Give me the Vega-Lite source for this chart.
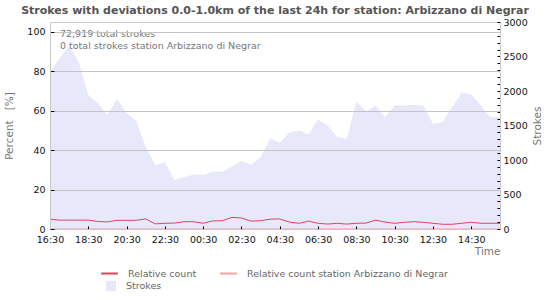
{
  "$schema": "https://vega.github.io/schema/vega-lite/v6.json",
  "width": 450,
  "height": 207,
  "autosize": {"type": "none"},
  "padding": {"left": 50, "top": 22, "right": 50, "bottom": 71},
  "background": "white",
  "config": {
    "font": "DejaVu Sans",
    "view": {"stroke": "#c8c8c8", "strokeWidth": 1}
  },
  "title": {
    "text": "Strokes with deviations 0.0-1.0km of the last 24h for station: Arbizzano di Negrar",
    "font": "DejaVu Sans",
    "fontSize": 11,
    "fontWeight": "bold",
    "color": "#555555",
    "anchor": "middle",
    "frame": "group",
    "offset": 1
  },
  "data": {
    "values": [
      {"t": "2024-01-01T16:30", "rel": 5.0, "stn": 0, "strokes": 2280},
      {"t": "2024-01-01T17:00", "rel": 4.5, "stn": 0, "strokes": 2470},
      {"t": "2024-01-01T17:30", "rel": 4.5, "stn": 0, "strokes": 2656},
      {"t": "2024-01-01T18:00", "rel": 4.5, "stn": 0, "strokes": 2420},
      {"t": "2024-01-01T18:30", "rel": 4.5, "stn": 0, "strokes": 1942},
      {"t": "2024-01-01T19:00", "rel": 3.8, "stn": 0, "strokes": 1825},
      {"t": "2024-01-01T19:30", "rel": 3.6, "stn": 0, "strokes": 1652},
      {"t": "2024-01-01T20:00", "rel": 4.4, "stn": 0, "strokes": 1884},
      {"t": "2024-01-01T20:30", "rel": 4.4, "stn": 0, "strokes": 1680},
      {"t": "2024-01-01T21:00", "rel": 4.4, "stn": 0, "strokes": 1565},
      {"t": "2024-01-01T21:30", "rel": 5.1, "stn": 0, "strokes": 1190},
      {"t": "2024-01-01T22:00", "rel": 2.6, "stn": 0, "strokes": 920},
      {"t": "2024-01-01T22:30", "rel": 2.9, "stn": 0, "strokes": 975},
      {"t": "2024-01-01T23:00", "rel": 3.0, "stn": 0, "strokes": 705},
      {"t": "2024-01-01T23:30", "rel": 3.7, "stn": 0, "strokes": 755},
      {"t": "2024-01-02T00:00", "rel": 3.7, "stn": 0, "strokes": 790},
      {"t": "2024-01-02T00:30", "rel": 2.9, "stn": 0, "strokes": 782},
      {"t": "2024-01-02T01:00", "rel": 4.1, "stn": 0, "strokes": 828},
      {"t": "2024-01-02T01:30", "rel": 4.2, "stn": 0, "strokes": 830},
      {"t": "2024-01-02T02:00", "rel": 5.9, "stn": 0, "strokes": 905},
      {"t": "2024-01-02T02:30", "rel": 5.6, "stn": 0, "strokes": 985},
      {"t": "2024-01-02T03:00", "rel": 4.0, "stn": 0, "strokes": 930},
      {"t": "2024-01-02T03:30", "rel": 4.2, "stn": 0, "strokes": 1035},
      {"t": "2024-01-02T04:00", "rel": 5.0, "stn": 0, "strokes": 1314},
      {"t": "2024-01-02T04:30", "rel": 5.1, "stn": 0, "strokes": 1250},
      {"t": "2024-01-02T05:00", "rel": 3.5, "stn": 0, "strokes": 1400},
      {"t": "2024-01-02T05:30", "rel": 2.9, "stn": 0, "strokes": 1428},
      {"t": "2024-01-02T06:00", "rel": 4.0, "stn": 0, "strokes": 1370},
      {"t": "2024-01-02T06:30", "rel": 2.9, "stn": 0, "strokes": 1588},
      {"t": "2024-01-02T07:00", "rel": 2.5, "stn": 0, "strokes": 1500},
      {"t": "2024-01-02T07:30", "rel": 2.9, "stn": 0, "strokes": 1335},
      {"t": "2024-01-02T08:00", "rel": 2.5, "stn": 0, "strokes": 1307},
      {"t": "2024-01-02T08:30", "rel": 2.9, "stn": 0, "strokes": 1849},
      {"t": "2024-01-02T09:00", "rel": 3.0, "stn": 0, "strokes": 1704},
      {"t": "2024-01-02T09:30", "rel": 4.5, "stn": 0, "strokes": 1791},
      {"t": "2024-01-02T10:00", "rel": 3.5, "stn": 0, "strokes": 1621},
      {"t": "2024-01-02T10:30", "rel": 2.9, "stn": 0, "strokes": 1791},
      {"t": "2024-01-02T11:00", "rel": 3.4, "stn": 0, "strokes": 1791},
      {"t": "2024-01-02T11:30", "rel": 3.7, "stn": 0, "strokes": 1800},
      {"t": "2024-01-02T12:00", "rel": 3.4, "stn": 0, "strokes": 1791},
      {"t": "2024-01-02T12:30", "rel": 2.9, "stn": 0, "strokes": 1525},
      {"t": "2024-01-02T13:00", "rel": 2.4, "stn": 0, "strokes": 1549},
      {"t": "2024-01-02T13:30", "rel": 2.4, "stn": 0, "strokes": 1767},
      {"t": "2024-01-02T14:00", "rel": 2.9, "stn": 0, "strokes": 1975},
      {"t": "2024-01-02T14:30", "rel": 3.4, "stn": 0, "strokes": 1951},
      {"t": "2024-01-02T15:00", "rel": 2.9, "stn": 0, "strokes": 1791},
      {"t": "2024-01-02T15:30", "rel": 2.9, "stn": 0, "strokes": 1621},
      {"t": "2024-01-02T16:00", "rel": 2.9, "stn": 0, "strokes": 1621}
    ]
  },
  "layer": [
    {
      "mark": {"type": "area", "interpolate": "linear"},
      "encoding": {
        "x": {
          "field": "t",
          "type": "temporal",
          "scale": {
            "domain": [
              {"year": 2024, "month": 1, "date": 1, "hours": 16, "minutes": 30},
              {"year": 2024, "month": 1, "date": 2, "hours": 16, "minutes": 0}
            ],
            "nice": false
          }
        },
        "y": {
          "field": "strokes",
          "type": "quantitative",
          "scale": {"domain": [0, 3000], "nice": false},
          "axis": {
            "orient": "right",
            "title": "Strokes",
            "titleAngle": 270,
            "titleFont": "DejaVu Sans",
            "titleFontSize": 10.5,
            "titleFontWeight": "normal",
            "titleColor": "#777777",
            "titlePadding": 15,
            "values": [0, 100, 200, 300, 400, 500, 600, 700, 800, 900, 1000, 1100, 1200, 1300, 1400, 1500, 1600, 1700, 1800, 1900, 2000, 2100, 2200, 2300, 2400, 2500, 2600, 2700, 2800, 2900, 3000],
            "labelExpr": "datum.value % 500 === 0 ? datum.value : ''",
            "labelOverlap": false,
            "labelFlush": false,
            "labelBound": false,
            "labelFont": "DejaVu Sans",
            "labelFontSize": 9.5,
            "labelColor": "#111111",
            "labelPadding": 6,
            "tickSize": -3,
            "tickColor": "#000000",
            "domainColor": "#c8c8c8",
            "grid": false,
            "zindex": 1,
            "encode": {
              "ticks": {
                "update": {
                  "x2": {"signal": "datum.value % 500 === 0 ? -5 : -3"}
                }
              }
            }
          }
        },
        "fill": {
          "datum": "Strokes",
          "scale": {"range": ["#e8e8fb"]},
          "legend": {
            "title": null,
            "orient": "none",
            "legendX": 56,
            "legendY": 259,
            "symbolType": "square",
            "symbolSize": 100,
            "symbolStrokeWidth": 0,
            "labelOffset": 10,
            "labelFont": "DejaVu Sans",
            "labelFontSize": 9.5,
            "labelColor": "#666666",
            "padding": 0
          }
        }
      }
    },
    {
      "transform": [{"fold": ["rel", "stn"], "as": ["series", "pct"]}],
      "mark": {"type": "line", "strokeWidth": 1, "interpolate": "linear"},
      "encoding": {
        "x": {
          "field": "t",
          "type": "temporal",
          "axis": {
            "title": "Time",
            "titleFont": "DejaVu Sans",
            "titleFontSize": 10.5,
            "titleFontWeight": "normal",
            "titleColor": "#777777",
            "titleAnchor": "end",
            "titleAlign": "right",
            "titleBaseline": "alphabetic",
            "titleX": 450,
            "titleY": 25,
            "format": "%H:%M",
            "values": [
              {"year": 2024, "month": 1, "date": 1, "hours": 16, "minutes": 30},
              {"year": 2024, "month": 1, "date": 1, "hours": 17, "minutes": 0},
              {"year": 2024, "month": 1, "date": 1, "hours": 17, "minutes": 30},
              {"year": 2024, "month": 1, "date": 1, "hours": 18, "minutes": 0},
              {"year": 2024, "month": 1, "date": 1, "hours": 18, "minutes": 30},
              {"year": 2024, "month": 1, "date": 1, "hours": 19, "minutes": 0},
              {"year": 2024, "month": 1, "date": 1, "hours": 19, "minutes": 30},
              {"year": 2024, "month": 1, "date": 1, "hours": 20, "minutes": 0},
              {"year": 2024, "month": 1, "date": 1, "hours": 20, "minutes": 30},
              {"year": 2024, "month": 1, "date": 1, "hours": 21, "minutes": 0},
              {"year": 2024, "month": 1, "date": 1, "hours": 21, "minutes": 30},
              {"year": 2024, "month": 1, "date": 1, "hours": 22, "minutes": 0},
              {"year": 2024, "month": 1, "date": 1, "hours": 22, "minutes": 30},
              {"year": 2024, "month": 1, "date": 1, "hours": 23, "minutes": 0},
              {"year": 2024, "month": 1, "date": 1, "hours": 23, "minutes": 30},
              {"year": 2024, "month": 1, "date": 2, "hours": 0, "minutes": 0},
              {"year": 2024, "month": 1, "date": 2, "hours": 0, "minutes": 30},
              {"year": 2024, "month": 1, "date": 2, "hours": 1, "minutes": 0},
              {"year": 2024, "month": 1, "date": 2, "hours": 1, "minutes": 30},
              {"year": 2024, "month": 1, "date": 2, "hours": 2, "minutes": 0},
              {"year": 2024, "month": 1, "date": 2, "hours": 2, "minutes": 30},
              {"year": 2024, "month": 1, "date": 2, "hours": 3, "minutes": 0},
              {"year": 2024, "month": 1, "date": 2, "hours": 3, "minutes": 30},
              {"year": 2024, "month": 1, "date": 2, "hours": 4, "minutes": 0},
              {"year": 2024, "month": 1, "date": 2, "hours": 4, "minutes": 30},
              {"year": 2024, "month": 1, "date": 2, "hours": 5, "minutes": 0},
              {"year": 2024, "month": 1, "date": 2, "hours": 5, "minutes": 30},
              {"year": 2024, "month": 1, "date": 2, "hours": 6, "minutes": 0},
              {"year": 2024, "month": 1, "date": 2, "hours": 6, "minutes": 30},
              {"year": 2024, "month": 1, "date": 2, "hours": 7, "minutes": 0},
              {"year": 2024, "month": 1, "date": 2, "hours": 7, "minutes": 30},
              {"year": 2024, "month": 1, "date": 2, "hours": 8, "minutes": 0},
              {"year": 2024, "month": 1, "date": 2, "hours": 8, "minutes": 30},
              {"year": 2024, "month": 1, "date": 2, "hours": 9, "minutes": 0},
              {"year": 2024, "month": 1, "date": 2, "hours": 9, "minutes": 30},
              {"year": 2024, "month": 1, "date": 2, "hours": 10, "minutes": 0},
              {"year": 2024, "month": 1, "date": 2, "hours": 10, "minutes": 30},
              {"year": 2024, "month": 1, "date": 2, "hours": 11, "minutes": 0},
              {"year": 2024, "month": 1, "date": 2, "hours": 11, "minutes": 30},
              {"year": 2024, "month": 1, "date": 2, "hours": 12, "minutes": 0},
              {"year": 2024, "month": 1, "date": 2, "hours": 12, "minutes": 30},
              {"year": 2024, "month": 1, "date": 2, "hours": 13, "minutes": 0},
              {"year": 2024, "month": 1, "date": 2, "hours": 13, "minutes": 30},
              {"year": 2024, "month": 1, "date": 2, "hours": 14, "minutes": 0},
              {"year": 2024, "month": 1, "date": 2, "hours": 14, "minutes": 30},
              {"year": 2024, "month": 1, "date": 2, "hours": 15, "minutes": 0},
              {"year": 2024, "month": 1, "date": 2, "hours": 15, "minutes": 30},
              {"year": 2024, "month": 1, "date": 2, "hours": 16, "minutes": 0}
            ],
            "labelExpr": "indexof(['16:30','18:30','20:30','22:30','00:30','02:30','04:30','06:30','08:30','10:30','12:30','14:30'], datum.label) >= 0 ? datum.label : ''",
            "labelOverlap": false,
            "labelFlush": false,
            "labelBound": false,
            "labelFont": "DejaVu Sans",
            "labelFontSize": 9.5,
            "labelColor": "#111111",
            "labelPadding": 8,
            "tickSize": -3,
            "tickColor": "#000000",
            "domainColor": "#c8c8c8",
            "grid": false,
            "zindex": 1,
            "encode": {
              "ticks": {
                "update": {
                  "y2": {"signal": "indexof(['16:30','18:30','20:30','22:30','00:30','02:30','04:30','06:30','08:30','10:30','12:30','14:30'], timeFormat(datum.value, '%H:%M')) >= 0 ? -5 : -3"}
                }
              }
            }
          }
        },
        "y": {
          "field": "pct",
          "type": "quantitative",
          "scale": {"domain": [0, 105], "nice": false},
          "axis": {
            "orient": "left",
            "title": "Percent\u00a0\u00a0\u00a0[%]",
            "titleFont": "DejaVu Sans",
            "titleFontSize": 10.5,
            "titleFontWeight": "normal",
            "titleColor": "#777777",
            "titlePadding": 12,
            "values": [0, 20, 40, 60, 80, 100],
            "labelFont": "DejaVu Sans",
            "labelFontSize": 9.5,
            "labelColor": "#111111",
            "labelPadding": 9,
            "tickSize": -4,
            "tickColor": "#000000",
            "domainColor": "#c8c8c8",
            "grid": true,
            "gridColor": "#c4c4c4",
            "gridWidth": 1,
            "zindex": 1
          }
        },
        "stroke": {
          "field": "series",
          "type": "nominal",
          "scale": {"domain": ["rel", "stn"], "range": ["#e0435a", "#ff9f9f"]},
          "legend": {
            "title": null,
            "orient": "none",
            "legendX": 50,
            "legendY": 242,
            "direction": "horizontal",
            "columns": 2,
            "columnPadding": 19,
            "symbolType": "stroke",
            "symbolSize": 280,
            "symbolStrokeWidth": 2,
            "labelOffset": 9,
            "labelLimit": 400,
            "labelFont": "DejaVu Sans",
            "labelFontSize": 9.5,
            "labelColor": "#666666",
            "padding": 0,
            "labelExpr": "datum.value === 'rel' ? 'Relative count' : 'Relative count station Arbizzano di Negrar'"
          }
        }
      }
    },
    {
      "mark": {
        "type": "text",
        "align": "left",
        "baseline": "top",
        "dx": 10,
        "font": "DejaVu Sans",
        "fontSize": 9.5,
        "lineHeight": 12,
        "color": "#777777"
      },
      "encoding": {
        "x": {"field": "t", "aggregate": "min", "type": "temporal"},
        "y": {"datum": 101.5, "type": "quantitative", "scale": {"domain": [0, 105], "nice": false}, "axis": null},
        "text": {"value": ["72,919 total strokes", "0 total strokes station Arbizzano di Negrar"]}
      }
    }
  ],
  "resolve": {"scale": {"y": "independent"}}
}
